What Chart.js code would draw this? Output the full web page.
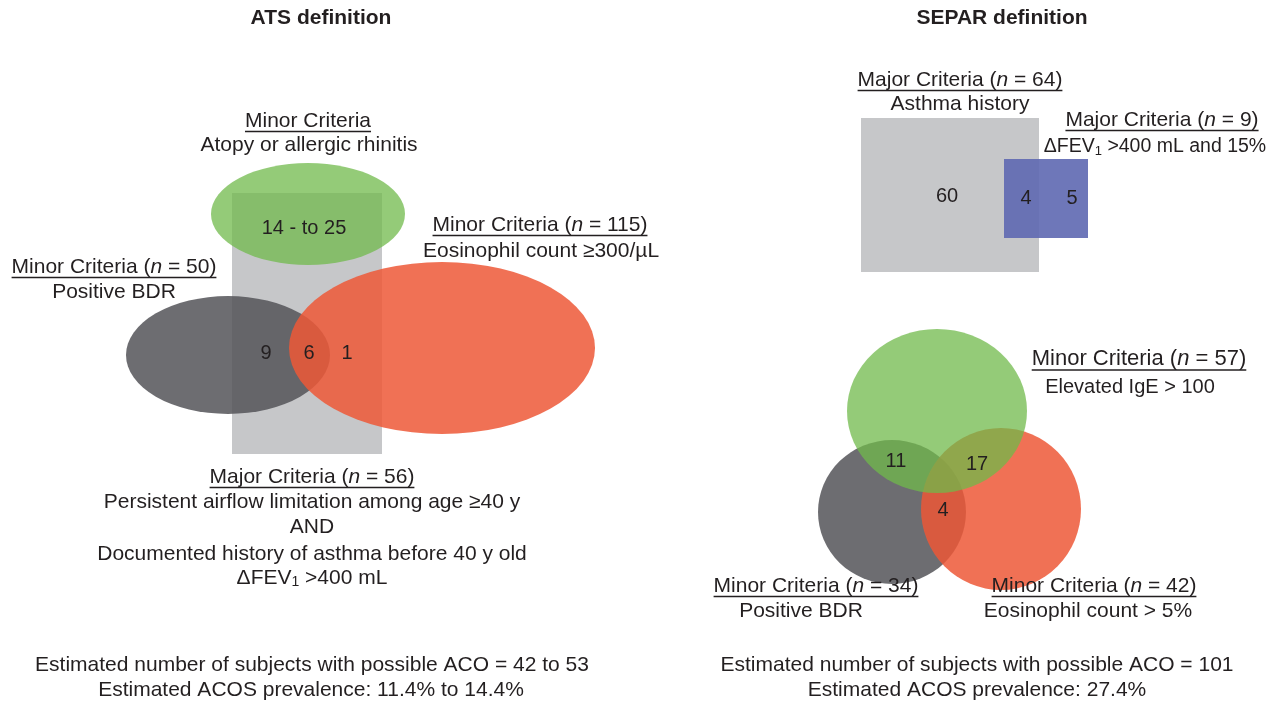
<!DOCTYPE html>
<html>
<head>
<meta charset="utf-8">
<script src="https://cdn.jsdelivr.net/npm/chart.js@4"></script>
<style>
  html, body { margin: 0; padding: 0; background: #fff; }
  canvas { display: block; }
</style>
</head>
<body>
<canvas id="venn" width="1278" height="701"></canvas>
<script>
// region counts
const atsRegionCounts = ['14 - to 25', '9', '6', '1'];
const separMajorCounts = ['60', '4', '5'];
const separMinorCounts = ['11', '17', '4'];

// n per criterion
const atsCriteriaN = [115, 50, 56];          // eosinophil, BDR, major
const separCriteriaN = [64, 9, 57, 34, 42];  // asthma hx, dFEV1, IgE, BDR, eosinophil

const atsEstimate = ['42 to 53', '11.4% to 14.4%'];
const separEstimate = ['101', '27.4%'];

const W = 1278, H = 701;
const FONT = '"Liberation Sans", Arial, sans-serif';
const INK = '#231f20';

// colours
const GREY_BOX = '#c6c7c9';
const GREEN = 'rgba(112,186,75,0.75)';
const DARK = 'rgba(83,84,88,0.85)';
const RED = 'rgba(237,88,55,0.85)';
const BLUE = 'rgba(94,104,177,0.9)';

// shape layout in figure units (x right, y down)
const shapes = [
  // ATS
  { kind: 'rect', x0: 232, y0: 193, x1: 382, y1: 454, fill: GREY_BOX },
  { kind: 'ellipse', cx: 228, cy: 355, rx: 102, ry: 59, fill: DARK },
  { kind: 'ellipse', cx: 442, cy: 348, rx: 153, ry: 86, fill: RED },
  { kind: 'ellipse', cx: 308, cy: 214, rx: 97, ry: 51, fill: GREEN },
  // SEPAR major
  { kind: 'rect', x0: 861, y0: 118, x1: 1039, y1: 272, fill: GREY_BOX },
  { kind: 'rect', x0: 1004, y0: 159, x1: 1088, y1: 238, fill: BLUE },
  // SEPAR minor
  { kind: 'ellipse', cx: 892, cy: 512, rx: 74, ry: 72, fill: DARK },
  { kind: 'ellipse', cx: 1001, cy: 509, rx: 80, ry: 81, fill: RED },
  { kind: 'ellipse', cx: 937, cy: 411, rx: 90, ry: 82, fill: GREEN }
];

const countSpots = [
  [atsRegionCounts[0], 304, 228], [atsRegionCounts[1], 266, 353],
  [atsRegionCounts[2], 309, 353], [atsRegionCounts[3], 347, 353],
  [separMajorCounts[0], 947, 196], [separMajorCounts[1], 1026, 198],
  [separMajorCounts[2], 1072, 198],
  [separMinorCounts[0], 896, 461], [separMinorCounts[1], 977, 464],
  [separMinorCounts[2], 943, 510]
];

// _x_ = italic, ^1 = subscript ; u = underline
const texts = [
  { t: 'ATS definition', x: 321, y: 18, bold: true, size: 21 },
  { t: 'SEPAR definition', x: 1002, y: 18, bold: true, size: 21 },

  { t: 'Minor Criteria', x: 308, y: 121, u: true },
  { t: 'Atopy or allergic rhinitis', x: 309, y: 145 },
  { t: 'Minor Criteria (_n_ = ' + atsCriteriaN[0] + ')', x: 540, y: 225, u: true },
  { t: 'Eosinophil count ≥300/µL', x: 541, y: 251 },
  { t: 'Minor Criteria (_n_ = ' + atsCriteriaN[1] + ')', x: 114, y: 267, u: true },
  { t: 'Positive BDR', x: 114, y: 292 },
  { t: 'Major Criteria (_n_ = ' + atsCriteriaN[2] + ')', x: 312, y: 477, u: true },
  { t: 'Persistent airflow limitation among age ≥40 y', x: 312, y: 502 },
  { t: 'AND', x: 312, y: 527 },
  { t: 'Documented history of asthma before 40 y old', x: 312, y: 554 },
  { t: 'ΔFEV^1 >400 mL', x: 312, y: 578 },
  { t: 'Estimated number of subjects with possible ACO = ' + atsEstimate[0], x: 312, y: 665 },
  { t: 'Estimated ACOS prevalence: ' + atsEstimate[1], x: 311, y: 690 },

  { t: 'Major Criteria (_n_ = ' + separCriteriaN[0] + ')', x: 960, y: 80, u: true },
  { t: 'Asthma history', x: 960, y: 104 },
  { t: 'Major Criteria (_n_ = ' + separCriteriaN[1] + ')', x: 1162, y: 120, u: true },
  { t: 'ΔFEV^1 >400 mL and 15%', x: 1155, y: 147, size: 19.5 },
  { t: 'Minor Criteria (_n_ = ' + separCriteriaN[2] + ')', x: 1139, y: 359, u: true, size: 22 },
  { t: 'Elevated IgE > 100', x: 1130, y: 387, size: 20 },
  { t: 'Minor Criteria (_n_ = ' + separCriteriaN[3] + ')', x: 816, y: 586, u: true },
  { t: 'Positive BDR', x: 801, y: 611 },
  { t: 'Minor Criteria (_n_ = ' + separCriteriaN[4] + ')', x: 1094, y: 586, u: true },
  { t: 'Eosinophil count > 5%', x: 1088, y: 611 },
  { t: 'Estimated number of subjects with possible ACO = ' + separEstimate[0], x: 977, y: 665 },
  { t: 'Estimated ACOS prevalence: ' + separEstimate[1], x: 977, y: 690 }
];

function parseRuns(str) {
  return str.split(/(_[^_]+_|\^\d)/).filter(s => s.length).map(s => {
    if (s[0] === '_') return { t: s.slice(1, -1), italic: true };
    if (s[0] === '^') return { t: s.slice(1), sub: true };
    return { t: s };
  });
}

function runFont(r, size, bold) {
  const sz = r.sub ? Math.round(size * 0.65) : size;
  return (r.italic ? 'italic ' : '') + (bold ? 'bold ' : '') + sz + 'px ' + FONT;
}

function drawText(ctx, item, px, py) {
  const size = item.size || 21;
  const runs = parseRuns(item.t);
  let total = 0;
  runs.forEach(r => {
    ctx.font = runFont(r, size, item.bold);
    r.w = ctx.measureText(r.t).width;
    total += r.w;
  });
  let x = px - total / 2;
  const x0 = x;
  ctx.fillStyle = INK;
  ctx.textAlign = 'left';
  ctx.textBaseline = 'middle';
  runs.forEach(r => {
    ctx.font = runFont(r, size, item.bold);
    ctx.fillText(r.t, x, r.sub ? py + size * 0.22 : py);
    x += r.w;
  });
  if (item.u) {
    ctx.strokeStyle = INK;
    ctx.lineWidth = 1.4;
    ctx.beginPath();
    ctx.moveTo(x0, py + size * 0.5);
    ctx.lineTo(x0 + total, py + size * 0.5);
    ctx.stroke();
  }
}

const vennPlugin = {
  id: 'venn',
  afterDatasetsDraw(chart) {
    const ctx = chart.ctx;
    const xs = chart.scales.x, ys = chart.scales.y;
    const px = v => xs.getPixelForValue(v);
    const py = v => ys.getPixelForValue(v);
    ctx.save();
    shapes.forEach(s => {
      ctx.fillStyle = s.fill;
      ctx.beginPath();
      if (s.kind === 'rect') {
        ctx.rect(px(s.x0), py(s.y0), px(s.x1) - px(s.x0), py(s.y1) - py(s.y0));
      } else {
        ctx.ellipse(px(s.cx), py(s.cy), Math.abs(px(s.cx + s.rx) - px(s.cx)),
          Math.abs(py(s.cy + s.ry) - py(s.cy)), 0, 0, Math.PI * 2);
      }
      ctx.fill();
    });
    countSpots.forEach(([label, x, y]) => {
      drawText(ctx, { t: label, size: 20 }, px(x), py(y));
    });
    texts.forEach(item => drawText(ctx, item, px(item.x), py(item.y)));
    ctx.restore();
  }
};

new Chart(document.getElementById('venn'), {
  type: 'scatter',
  data: { datasets: [{ data: [], pointRadius: 0 }] },
  options: {
    responsive: false,
    animation: false,
    layout: { padding: 0 },
    plugins: { legend: { display: false }, tooltip: { enabled: false } },
    scales: {
      x: { type: 'linear', min: 0, max: W, display: false },
      y: { type: 'linear', min: 0, max: H, reverse: true, display: false }
    }
  },
  plugins: [vennPlugin]
});
</script>
</body>
</html>
